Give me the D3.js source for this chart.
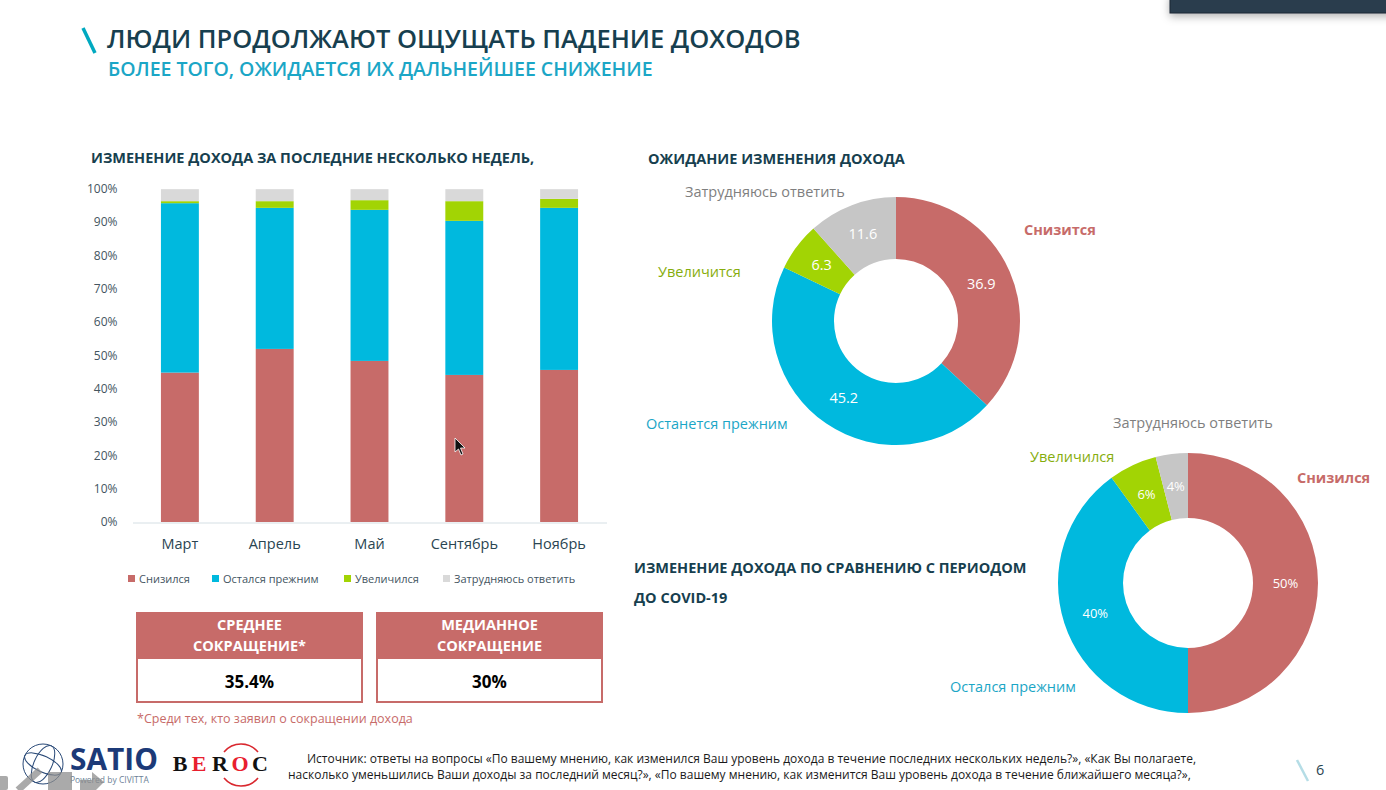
<!DOCTYPE html>
<html><head><meta charset="utf-8">
<script src="https://cdnjs.cloudflare.com/ajax/libs/d3/7.8.5/d3.min.js"></script>
<style>
html,body{margin:0;padding:0;background:#fff;overflow:hidden}
svg{display:block;font-family:"Open Sans",sans-serif}
</style></head><body><svg id="c" width="1386" height="790"></svg>
<script>
const months = ["Март","Апрель","Май","Сентябрь","Ноябрь"];
const stackKeys = ["Снизился","Остался прежним","Увеличился","Затрудняюсь ответить"];
const fell = [44.8,51.9,48.3,44.1,45.6];
const same = [50.8,42.3,45.3,46.2,48.6];
const rose = [0.6,2.0,2.9,5.9,2.7];
const unsure = [3.6,3.6,3.3,3.6,2.9];
const yTicks = [0,10,20,30,40,50,60,70,80,90,100];
const expectLabels = ["Снизится","Останется прежним","Увеличится","Затрудняюсь ответить"];
const expectValues = [36.9,45.2,6.3,11.6];
const covidLabels = ["Снизился","Остался прежним","Увеличился","Затрудняюсь ответить"];
const covidValues = [50,40,6,4];
const RED="#c76b69",BLUE="#00b9de",GREEN="#a2d404",GRAY="#d9d9d9",DARK="#173f4f";
const colors=[RED,BLUE,GREEN,GRAY];
const svg=d3.select("#c");
function txt(x,y,s,size,fill,opt={}){
  return svg.append("text").attr("x",x).attr("y",y).text(s).attr("font-size",size).attr("fill",fill)
   .attr("font-weight",opt.w||400).attr("text-anchor",opt.a||"start");
}
// corner panel
svg.append("defs").html('<filter id="sh" x="-10%" y="-50%" width="120%" height="250%"><feDropShadow dx="0" dy="3" stdDeviation="4" flood-opacity=".3"/></filter>');
svg.append("rect").attr("x",1170).attr("y",-5).attr("width",230).attr("height",18).attr("fill","#2c3e4e").attr("stroke","#1c2530").attr("filter","url(#sh)");
// header
svg.append("line").attr("x1",83).attr("y1",28).attr("x2",95).attr("y2",53).attr("stroke","#00a9c0").attr("stroke-width",3.5);
txt(107,48,"ЛЮДИ ПРОДОЛЖАЮТ ОЩУЩАТЬ ПАДЕНИЕ ДОХОДОВ",25.5,DARK,{w:600});
txt(108,76,"БОЛЕЕ ТОГО, ОЖИДАЕТСЯ ИХ ДАЛЬНЕЙШЕЕ СНИЖЕНИЕ",19.5,"#1ba6c6",{w:600});
txt(91,163,"ИЗМЕНЕНИЕ ДОХОДА ЗА ПОСЛЕДНИЕ НЕСКОЛЬКО НЕДЕЛЬ,",14.5,DARK,{w:700});
txt(648,164,"ОЖИДАНИЕ ИЗМЕНЕНИЯ ДОХОДА",14.5,DARK,{w:700});
txt(634,573,"ИЗМЕНЕНИЕ ДОХОДА ПО СРАВНЕНИЮ С ПЕРИОДОМ",14.5,DARK,{w:700});
txt(634,603,"ДО COVID-19",14.5,DARK,{w:700});
// stacked bars
const x=d3.scaleBand().domain(months).range([132.5,606.5]).paddingInner(0.6).paddingOuter(0.3);
const y=d3.scaleLinear().domain([0,100]).range([522,188.5]);
const rows=months.map((m,i)=>({m,[stackKeys[0]]:fell[i],[stackKeys[1]]:same[i],[stackKeys[2]]:rose[i],[stackKeys[3]]:unsure[i]}));
const stacked=d3.stack().keys(stackKeys)(rows);
svg.append("g").selectAll("g").data(stacked).join("g").attr("fill",(d,i)=>colors[i])
 .selectAll("rect").data(d=>d).join("rect")
 .attr("x",d=>x(d.data.m)).attr("width",x.bandwidth()).attr("y",d=>y(d[1])).attr("height",d=>y(d[0])-y(d[1]));
const ay=svg.append("g").attr("transform","translate(120.5,0)").call(d3.axisLeft(y).tickValues(yTicks).tickFormat(d=>d+"%").tickSize(0));
ay.select(".domain").remove();
ay.selectAll("text").attr("font-size",12).attr("fill","#44555f").attr("font-family","Open Sans").attr("dx",0);
const ax=svg.append("g").attr("transform","translate(0,522.5)").call(d3.axisBottom(x).tickSize(0).tickPadding(16));
ax.select(".domain").attr("stroke","#d5dfe4");
ax.selectAll("text").attr("font-size",14.5).attr("fill","#2a4552").attr("font-family","Open Sans");
// legend
const legX=[128,212,344,443];
stackKeys.forEach((k,i)=>{
 svg.append("rect").attr("x",legX[i]).attr("y",575).attr("width",7).attr("height",7).attr("fill",colors[i]);
 txt(legX[i]+11,582.5,k,11,"#44555f");
});
// boxes
function box(bx,w,l1,l2,val){
 svg.append("rect").attr("x",bx+1).attr("y",613).attr("width",w-2).attr("height",89).attr("fill","#fff").attr("stroke",RED).attr("stroke-width",2);
 svg.append("rect").attr("x",bx).attr("y",612).attr("width",w).attr("height",47).attr("fill",RED);
 txt(bx+w/2,630,l1,14.5,"#fff",{w:700,a:"middle"});
 txt(bx+w/2,651,l2,14.5,"#fff",{w:700,a:"middle"});
 txt(bx+w/2,688,val,17,"#000",{w:700,a:"middle"});
}
box(136,227,"СРЕДНЕЕ","СОКРАЩЕНИЕ*","35.4%");
box(376,227,"МЕДИАННОЕ","СОКРАЩЕНИЕ","30%");
txt(137,723,"*Среди тех, кто заявил о сокращении дохода",12.5,RED);
// donuts
function donut(cx,cy,R,r,vals,fmt,fs){
 const pie=d3.pie().sort(null).value(d=>d)(vals);
 const arc=d3.arc().innerRadius(r).outerRadius(R);
 const g=svg.append("g").attr("transform",`translate(${cx},${cy})`);
 g.selectAll("path").data(pie).join("path").attr("d",arc).attr("fill",(d,i)=>i==3?"#c6c6c6":colors[i]);
 g.selectAll("text").data(pie).join("text").attr("transform",d=>`translate(${arc.centroid(d)})`)
  .attr("text-anchor","middle").attr("dy","0.35em").attr("font-size",fs).attr("fill","#fff").attr("font-weight",d=>500).text(d=>fmt(d.data));
}
donut(896,321,124,62,expectValues,d=>d,14.5);
donut(1188,583,130,65,covidValues,d=>d+"%",13);
txt(1024,235,expectLabels[0],14.5,RED,{w:700});
txt(646,429,expectLabels[1],14.5,"#1ba6c6");
txt(658,277,expectLabels[2],14.5,"#86ad0c");
txt(685,197,expectLabels[3],14.5,"#7f7f7f");
txt(1297,483,covidLabels[0],14.5,RED,{w:700});
txt(950,692,covidLabels[1],14.5,"#1ba6c6");
txt(1030,462,covidLabels[2],14.5,"#86ad0c");
txt(1113,428,covidLabels[3],14.5,"#7f7f7f");
// cursor
svg.append("path").attr("d","M455 438 L455 452 L458.5 449 L461 455 L463 454 L460.5 448 L465 448 Z").attr("fill","#111").attr("stroke","#fff").attr("stroke-width",.8);
// logos
const globe=svg.append("g").attr("fill","none").attr("stroke","#2a4a78").attr("stroke-width",1);
globe.append("circle").attr("cx",43).attr("cy",764).attr("r",20);
globe.append("ellipse").attr("cx",43).attr("cy",764).attr("rx",20).attr("ry",8).attr("transform","rotate(25 43 764)");
globe.append("ellipse").attr("cx",43).attr("cy",764).attr("rx",9).attr("ry",20).attr("transform","rotate(25 43 764)");
txt(70,770,"SATIO",31,"#1c3a78",{w:700}).attr("textLength",88).attr("lengthAdjust","spacingAndGlyphs");
txt(70,783,"Powered by CIVITTA",8.5,"#6d7f96");
svg.append("g").attr("font-family","Liberation Serif").call(g=>{
 const letters=["B","E","R","O","C"],xs=[180,199,220,240,260],cols=["#111","#e8202e","#111","#e8202e","#111"];
 letters.forEach((l,i)=>g.append("text").attr("x",xs[i]).attr("y",771).attr("text-anchor","middle").attr("font-size",22).attr("font-weight",700).attr("fill",cols[i]).text(l));
});
svg.append("path").attr("d","M224 752 A22 22 0 0 1 258 752 M224 778 A22 22 0 0 0 258 778").attr("fill","none").attr("stroke","#d9272e").attr("stroke-width",1.6);
// toolbar ghost icons
const tb=svg.append("g").attr("fill","#8e8e8e").attr("opacity",.75);
tb.append("rect").attr("x",-4).attr("y",776).attr("width",12).attr("height",14).attr("rx",2);
tb.append("line").attr("x1",18).attr("y1",790).attr("x2",40).attr("y2",770).attr("stroke","#8e8e8e").attr("stroke-width",7);
tb.append("rect").attr("x",48).attr("y",772).attr("width",24).attr("height",18);
tb.append("path").attr("d","M80 780 H92 V772 L104 782 L96 790 H80 Z");
// source
txt(307,763,"Источник: ответы на вопросы «По вашему мнению, как изменился Ваш уровень дохода в течение последних нескольких недель?», «Как Вы полагаете,",12,"#1a1a1a");
txt(288,779,"насколько уменьшились Ваши доходы за последний месяц?», «По вашему мнению, как изменится Ваш уровень дохода в течение ближайшего месяца?»,",12,"#1a1a1a");
svg.append("line").attr("x1",1297).attr("y1",760).attr("x2",1308).attr("y2",781).attr("stroke","#b5dde6").attr("stroke-width",2.5);
txt(1316,775,"6",14.5,"#2a4552");
</script></body></html>
